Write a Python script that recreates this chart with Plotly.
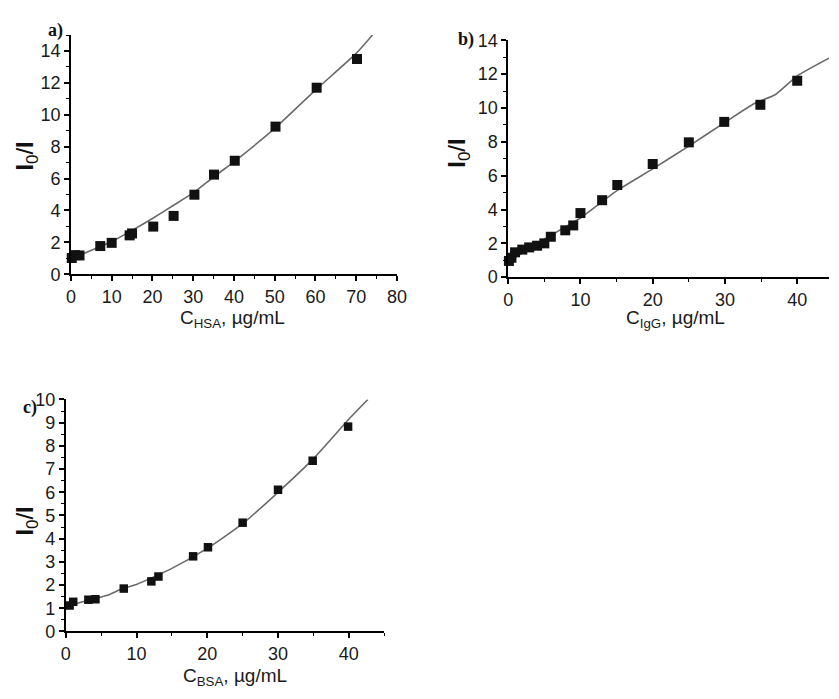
import plotly.graph_objects as go

# The page body keeps its default 8px margin, so the figure starts at (8, 8)
# on screen; coordinates below are screen pixels converted with that offset.
OFF = 8
W, H = 839 - OFF, 699 - 2 * OFF

# ---------------- Panel a (HSA) ----------------
hsa_x = [0.2, 1.0, 2.1, 7.2, 10.0, 14.4, 15.0, 20.2, 25.2, 30.3, 35.1, 40.2, 50.2, 60.3, 70.2]
hsa_y = [1.02, 1.2, 1.18, 1.77, 1.97, 2.44, 2.56, 2.99, 3.66, 4.99, 6.25, 7.12, 9.26, 11.7, 13.5]
hsa_fit_x = [0, 5, 10, 15, 20, 25, 30, 35, 40, 50, 60, 70, 74]
hsa_fit_y = [0.95, 1.5, 2.05, 2.75, 3.5, 4.3, 5.1, 6.1, 7.05, 9.15, 11.55, 13.85, 15.0]

# ---------------- Panel b (IgG) ----------------
igg_x = [0.1, 0.45, 0.95, 1.95, 2.9, 4.0, 5.0, 5.9, 7.9, 9.0, 10.0, 13.0, 15.1, 20.0, 25.0, 29.9, 34.9, 40.0]
igg_y = [0.96, 1.15, 1.47, 1.63, 1.76, 1.86, 2.0, 2.39, 2.77, 3.06, 3.79, 4.55, 5.45, 6.69, 7.97, 9.18, 10.19, 11.61]
igg_fit_x = [0, 5, 10, 15, 20, 25, 30, 34, 37, 40, 44.4]
igg_fit_y = [0.9, 2.25, 3.5, 5.1, 6.4, 7.75, 9.15, 10.25, 10.8, 11.9, 12.95]

# ---------------- Panel c (BSA) ----------------
bsa_x = [0.55, 1.06, 3.2, 4.2, 8.2, 12.1, 13.1, 18.0, 20.1, 25.0, 30.0, 34.9, 39.9]
bsa_y = [1.12, 1.28, 1.37, 1.39, 1.85, 2.16, 2.37, 3.24, 3.63, 4.69, 6.11, 7.36, 8.83]
bsa_fit_x = [0, 2, 4, 6, 8, 10, 15, 20, 25, 30, 35, 40, 42.7]
bsa_fit_y = [1.08, 1.25, 1.4, 1.57, 1.85, 2.03, 2.72, 3.58, 4.65, 6.0, 7.45, 9.15, 10.0]

x_titles = ["C<sub>HSA</sub>, µg/mL", "C<sub>IgG</sub>, µg/mL", "C<sub>BSA</sub>, µg/mL"]
y_title = "<b>I</b><sub>0</sub>/<b>I</b>"
panel_labels = ["a)", "b)", "c)"]

LINE_COLOR = "#6a6a6a"
FONT = "Liberation Sans, Arial, sans-serif"

fig = go.Figure()

def add_panel(i, xs, ys, fx, fy, msize):
    xa = "x" if i == 1 else f"x{i}"
    ya = "y" if i == 1 else f"y{i}"
    fig.add_trace(go.Scatter(x=fx, y=fy, mode="lines", xaxis=xa, yaxis=ya,
                             line=dict(color=LINE_COLOR, width=1.6, shape="spline", smoothing=0.5),
                             showlegend=False, hoverinfo="skip"))
    fig.add_trace(go.Scatter(x=xs, y=ys, mode="markers", xaxis=xa, yaxis=ya,
                             marker=dict(symbol="square", size=msize, color="#111111",
                                         line=dict(width=0)),
                             cliponaxis=False, showlegend=False))

add_panel(1, hsa_x, hsa_y, hsa_fit_x, hsa_fit_y, 10)
add_panel(2, igg_x, igg_y, igg_fit_x, igg_fit_y, 10)
add_panel(3, bsa_x, bsa_y, bsa_fit_x, bsa_fit_y, 8.5)

def px_x(p):
    return (p - OFF) / W

def px_y(p):
    return 1 - (p - OFF) / H

def axis_common(dtick, minor_dtick, rng):
    return dict(range=rng, showline=True, linecolor="black", linewidth=1.5,
                ticks="outside", ticklen=5, tickwidth=1.5, tickcolor="black",
                dtick=dtick, tick0=0, showgrid=False, zeroline=False,
                tickfont=dict(family=FONT, size=18, color="#1a1a1a"),
                minor=dict(ticks="outside", ticklen=3, tickwidth=1.2, tickcolor="black",
                           dtick=minor_dtick, tick0=0, showgrid=False),
                fixedrange=True)

# domains in screen pixels
a_x = (67, 399); a_y = (272, 25.6)
b_x = (512.3, 839); b_y = (275, 31)
c_x = (61.7, 386); c_y = (640, 401)

fig.update_layout(
    width=W, height=H,
    margin=dict(l=0, r=0, t=0, b=0),
    paper_bgcolor="white", plot_bgcolor="white",
    xaxis=dict(domain=[px_x(a_x[0]), px_x(a_x[1])], anchor="y", **axis_common(10, 5, [0, 80])),
    yaxis=dict(domain=[px_y(a_y[0]), px_y(a_y[1])], anchor="x", **axis_common(2, 1, [0, 15])),
    xaxis2=dict(domain=[px_x(b_x[0]), min(1.0, px_x(b_x[1]))], anchor="y2", **axis_common(10, 5, [0, 44.4])),
    yaxis2=dict(domain=[px_y(b_y[0]), px_y(b_y[1])], anchor="x2", **axis_common(2, 1, [0, 14])),
    xaxis3=dict(domain=[px_x(c_x[0]), px_x(c_x[1])], anchor="y3", **axis_common(10, 5, [0, 45])),
    yaxis3=dict(domain=[px_y(c_y[0]), px_y(c_y[1])], anchor="x3", **axis_common(1, 0.5, [0, 10])),
)

annotations = []
# x titles
for txt, (cx, cy) in zip(x_titles, [(232, 318), (683, 318), (234, 687)]):
    annotations.append(dict(text=txt, x=px_x(cx), y=px_y(cy), xref="paper", yref="paper",
                            xanchor="center", yanchor="middle", showarrow=False, borderpad=0,
                            font=dict(family=FONT, size=19, color="#1a1a1a")))
# y titles
for (cx, cy) in [(22, 150), (462, 147), (22, 526)]:
    annotations.append(dict(text=y_title, x=px_x(cx), y=px_y(cy), xref="paper", yref="paper",
                            xanchor="center", yanchor="middle", showarrow=False, textangle=-90,
                            font=dict(family=FONT, size=24, color="#111111")))
# panel labels
for txt, (cx, cy) in zip(panel_labels, [(51, 21), (469, 30), (25, 409)]):
    annotations.append(dict(text=f"<b>{txt}</b>", x=px_x(cx), y=px_y(cy), xref="paper", yref="paper",
                            xanchor="center", yanchor="middle", showarrow=False,
                            font=dict(family="Liberation Serif, Times New Roman, serif", size=18,
                                      color="#111111")))
fig.update_layout(annotations=annotations)

fig.write_html("out.html", config={"displayModeBar": False})
